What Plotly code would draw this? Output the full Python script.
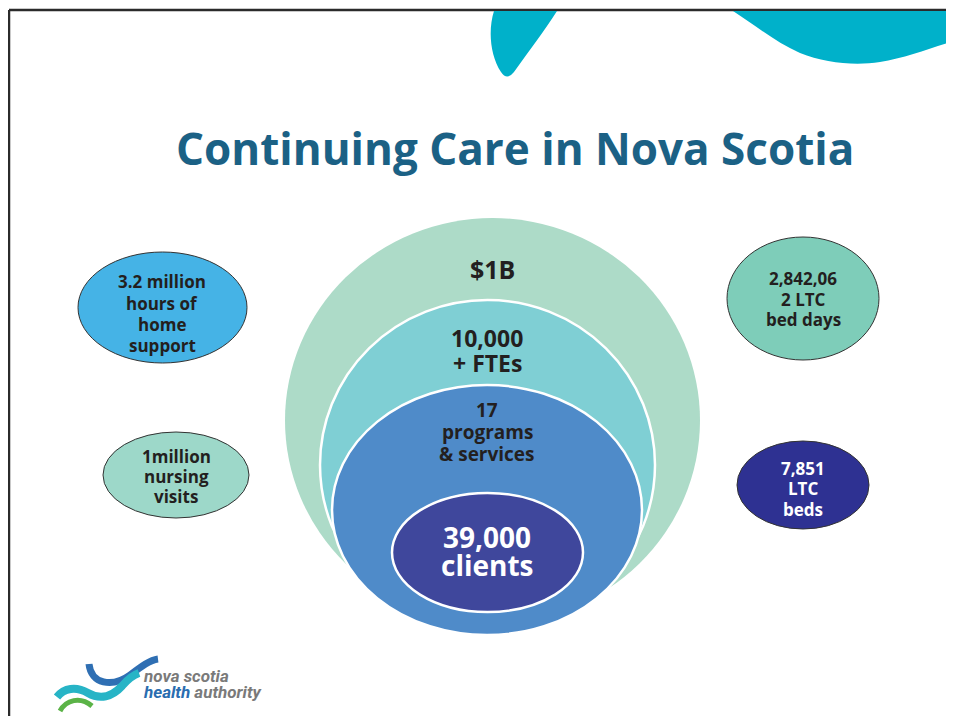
import plotly.graph_objects as go

# ---------------- data (text content) ----------------
title_text = "Continuing Care in Nova Scotia"
ring_labels = [
    ["$1B"],
    ["10,000", "+ FTEs"],
    ["17", "programs", "& services"],
    ["39,000", "clients"],
]
side_labels = [
    ["3.2 million", "hours of", "home", "support"],
    ["1million", "nursing", "visits"],
    ["2,842,06", "2 LTC", "bed days"],
    ["7,851", "LTC", "beds"],
]
logo_line1 = "nova scotia"
logo_word_blue = "health"
logo_word_gray = "authority"

# ---------------- layout / styles ----------------
W, H = 954, 724
OFF = 8  # page body margin in the browser
FONT = "Open Sans"
DARK = "#231F20"

ring_boxes = [(285, 218, 700, 623), (320, 300, 655, 630), (332, 385, 642, 635), (392, 493, 583, 612)]
ring_fills = ["#ADDBC8", "#7FCFD4", "#4F8BC9", "#3F479C"]
ring_lines = [0, 2.5, 2.5, 2.5]
ring_text = [  # (center x, baselines, font size, color)
    (492, [279], 25, DARK),
    (487, [347, 372], 23, DARK),
    (487, [417, 439, 461], 19, DARK),
    (487, [548, 576], 28, "white"),
]

side_boxes = [(78, 252, 247, 363), (103, 432, 249, 518), (727, 237, 879, 360), (737, 441, 869, 529)]
side_fills = ["#45B3E6", "#9DD8C9", "#7ECDB9", "#2E3192"]
side_text = [
    (162, [288, 310, 331, 352], 17, DARK),
    (176, [463, 483, 503], 17, DARK),
    (803, [285, 306, 326], 17, DARK),
    (803, [475, 495, 516], 17, "white"),
]

fig = go.Figure()
shapes = []
annotations = []

# frame
shapes.append(dict(type="line", x0=9, y0=10, x1=W, y1=10, line=dict(color="#2B2B2B", width=2.5)))
shapes.append(dict(type="line", x0=9, y0=10, x1=9, y1=H, line=dict(color="#2B2B2B", width=2.5)))

# decorative swooshes at top
TEAL = "#00B1CA"
shapes.append(dict(type="path",
                   path="M 494 11 L 557 11 C 545 30 528 52 514 72 Q 507 81 501 72 C 490 55 488 30 494 11 Z",
                   fillcolor=TEAL, line=dict(width=0)))
shapes.append(dict(type="path",
                   path="M 733 11 C 755 25 775 42 800 53 C 825 63 855 66 880 62 C 905 58 930 48 954 41 L 954 11 Z",
                   fillcolor=TEAL, line=dict(width=0)))

# nested rings
for (x0, y0, x1, y1), fc, lw in zip(ring_boxes, ring_fills, ring_lines):
    shapes.append(dict(type="circle", x0=x0, y0=y0, x1=x1, y1=y1, fillcolor=fc,
                       line=dict(color="white", width=lw)))

# side ellipses
for (x0, y0, x1, y1), fc in zip(side_boxes, side_fills):
    shapes.append(dict(type="circle", x0=x0, y0=y0, x1=x1, y1=y1, fillcolor=fc,
                       line=dict(color="#333333", width=1)))


def add_lines(lines, spec):
    cx, baselines, fs, col = spec
    for txt, b in zip(lines, baselines):
        annotations.append(dict(x=cx, y=b - 0.388 * fs, text=txt, showarrow=False,
                                xanchor="center", yanchor="middle",
                                font=dict(family=FONT, size=fs, color=col, weight=700)))


for lines, spec in zip(ring_labels, ring_text):
    add_lines(lines, spec)
for lines, spec in zip(side_labels, side_text):
    add_lines(lines, spec)

# title
TFS = 44
annotations.append(dict(x=515, y=165 - 0.388 * TFS, text=title_text, showarrow=False,
                        xanchor="center", yanchor="middle",
                        font=dict(family=FONT, size=TFS, color="#1B6185", weight=700)))

# logo waves
shapes.append(dict(type="path", path="M 89 664 C 91 684 112 688 130 675 C 142 666 150 660 158 659",
                   line=dict(color="#2F6FB3", width=7)))
shapes.append(dict(type="path", path="M 57 697 C 64 688 76 686 88 693 C 100 700 112 697 122 686 C 128 679 133 675 139 673",
                   line=dict(color="#27B4C6", width=8)))
shapes.append(dict(type="path", path="M 60 711 C 66 700 80 696 92 706",
                   line=dict(color="#5BB347", width=5)))

# logo text
annotations.append(dict(x=141, y=683 - 0.388 * 17, text="<i>" + logo_line1 + "</i>", showarrow=False,
                        xanchor="left", yanchor="middle",
                        font=dict(family="Roboto", size=17, color="#7A7A7A", weight=700)))
annotations.append(dict(x=141, y=699 - 0.388 * 17,
                        text="<i><span style='color:#2A6DB0'>" + logo_word_blue + "</span> " + logo_word_gray + "</i>",
                        showarrow=False, xanchor="left", yanchor="middle",
                        font=dict(family="Roboto", size=17, color="#7A7A7A", weight=700)))

fig.update_layout(
    width=W - OFF, height=H - 2 * OFF,
    margin=dict(l=0, r=0, t=0, b=0),
    paper_bgcolor="white", plot_bgcolor="white",
    xaxis=dict(range=[OFF, W], visible=False, fixedrange=True),
    yaxis=dict(range=[H - OFF, OFF], visible=False, fixedrange=True),
    shapes=shapes, annotations=annotations, showlegend=False,
)

fig.write_html("out.html", config={"displayModeBar": False})
